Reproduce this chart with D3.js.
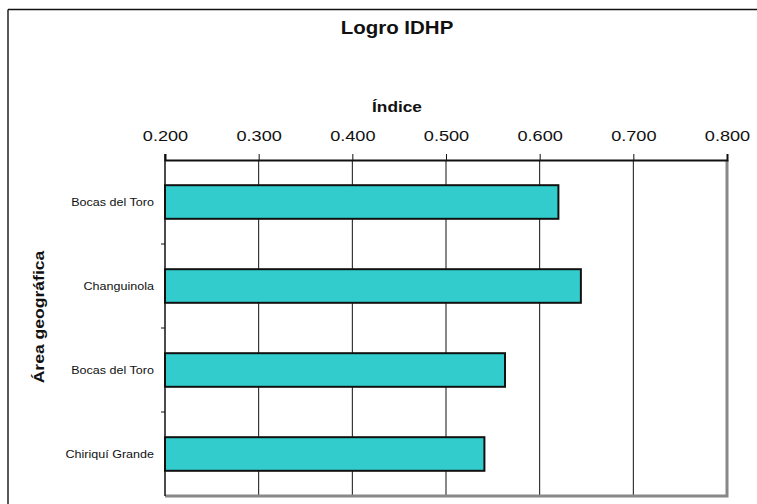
<!DOCTYPE html>
<html>
<head>
<meta charset="utf-8">
<script src="https://cdn.jsdelivr.net/npm/d3@7"></script>
<style>
  body { margin: 0; background: #fff; }
  svg { display: block; font-family: "Liberation Sans", Arial, sans-serif; }
</style>
</head>
<body>
<svg id="svg1" width="757" height="504"></svg>
<script>
// data
var categories = ["Bocas del Toro", "Changuinola", "Bocas del Toro ", "Chiriquí Grande"];
var values = [0.620, 0.644, 0.563, 0.541];
var xTicks = [0.2, 0.3, 0.4, 0.5, 0.6, 0.7, 0.8];

var svg = d3.select('#svg1');

var plotLeft = 165, plotRight = 727, plotTop = 160, plotBottom = 496;

// the original font is a bit wider than Arial, stretch texts along their length
function widen(sel, k) {
  sel.each(function() {
    var w = this.getComputedTextLength();
    d3.select(this).attr('textLength', w * k).attr('lengthAdjust', 'spacingAndGlyphs');
  });
}

// outer chart frame (only left and top visible)
svg.append('line').attr('x1', 8).attr('x2', 8).attr('y1', 9.5).attr('y2', 504)
    .attr('stroke', '#222').attr('stroke-width', 1.5);
svg.append('line').attr('x1', 8).attr('x2', 757).attr('y1', 9.5).attr('y2', 9.5)
    .attr('stroke', '#111').attr('stroke-width', 1.5);

var scaleX = d3.scaleLinear().domain([0.2, 0.8]).range([plotLeft, plotRight]);
var scaleY = d3.scaleBand().domain(categories).range([plotTop, plotBottom]).paddingInner(0.6).paddingOuter(0.3);

// gridlines
svg.selectAll('.grid')
    .data(xTicks.slice(1, -1))
    .enter()
    .append('line')
    .attr('class', 'grid')
    .attr('x1', function(d) { return scaleX(d); })
    .attr('x2', function(d) { return scaleX(d); })
    .attr('y1', plotTop)
    .attr('y2', plotBottom)
    .attr('stroke', '#111')
    .attr('stroke-width', 1);

// plot border right/bottom (gray)
svg.append('path')
    .attr('d', 'M' + plotRight + ',' + plotTop + 'V' + plotBottom + 'H' + plotLeft)
    .attr('fill', 'none')
    .attr('stroke', '#888')
    .attr('stroke-width', 3);

// bars
svg.selectAll('.bar')
    .data(values)
    .enter()
    .append('rect')
    .attr('class', 'bar')
    .attr('x', scaleX(0.2))
    .attr('y', function(d, i) { return scaleY(categories[i]); })
    .attr('width', function(d) { return scaleX(d) - scaleX(0.2); })
    .attr('height', scaleY.bandwidth())
    .attr('fill', '#33cccc')
    .attr('stroke', '#111')
    .attr('stroke-width', 2);

// top axis
var xAxis = svg.append('g')
    .attr('transform', 'translate(0,' + plotTop + ')')
    .call(d3.axisTop(scaleX).tickValues(xTicks).tickFormat(d3.format('.3f')).tickSize(6).tickPadding(13));
xAxis.select('.domain').attr('stroke', '#111').attr('stroke-width', 2);
xAxis.selectAll('.tick line').attr('stroke', '#111');
xAxis.selectAll('text').attr('font-size', 15.5).attr('fill', '#111')
    .attr('font-family', '"Liberation Sans", Arial, sans-serif')
    .call(widen, 1.17);

// left axis with ticks at band boundaries
svg.append('line').attr('x1', plotLeft).attr('x2', plotLeft).attr('y1', plotTop - 6).attr('y2', plotBottom)
    .attr('stroke', '#111').attr('stroke-width', 1.5);
var step = scaleY.step();
svg.selectAll('.ytick')
    .data(categories.slice(1))
    .enter()
    .append('line')
    .attr('class', 'ytick')
    .attr('x1', plotLeft - 4)
    .attr('x2', plotLeft)
    .attr('y1', function(d) { return scaleY(d) - step * 0.3; })
    .attr('y2', function(d) { return scaleY(d) - step * 0.3; })
    .attr('stroke', '#111');

svg.selectAll('.cat')
    .data(categories)
    .enter()
    .append('text')
    .attr('class', 'cat')
    .attr('x', 154)
    .attr('y', function(d) { return scaleY(d) + scaleY.bandwidth() / 2; })
    .attr('dy', '0.35em')
    .attr('text-anchor', 'end')
    .attr('font-size', 11)
    .attr('fill', '#111')
    .text(function(d) { return d.trim(); })
    .call(widen, 1.14);

// titles
svg.append('text').attr('x', 397).attr('y', 34).attr('text-anchor', 'middle')
    .attr('font-size', 17.5).attr('font-weight', 'bold').attr('fill', '#111').text('Logro IDHP')
    .call(widen, 1.17);
svg.append('text').attr('x', 397).attr('y', 112).attr('text-anchor', 'middle')
    .attr('font-size', 15).attr('font-weight', 'bold').attr('fill', '#111').text('Índice')
    .call(widen, 1.15);
svg.append('text').attr('transform', 'translate(44,' + 317 + ') rotate(-90)')
    .attr('text-anchor', 'middle')
    .attr('font-size', 15).attr('font-weight', 'bold').attr('fill', '#111').text('Área geográfica')
    .call(widen, 1.17);
</script>
</body>
</html>
